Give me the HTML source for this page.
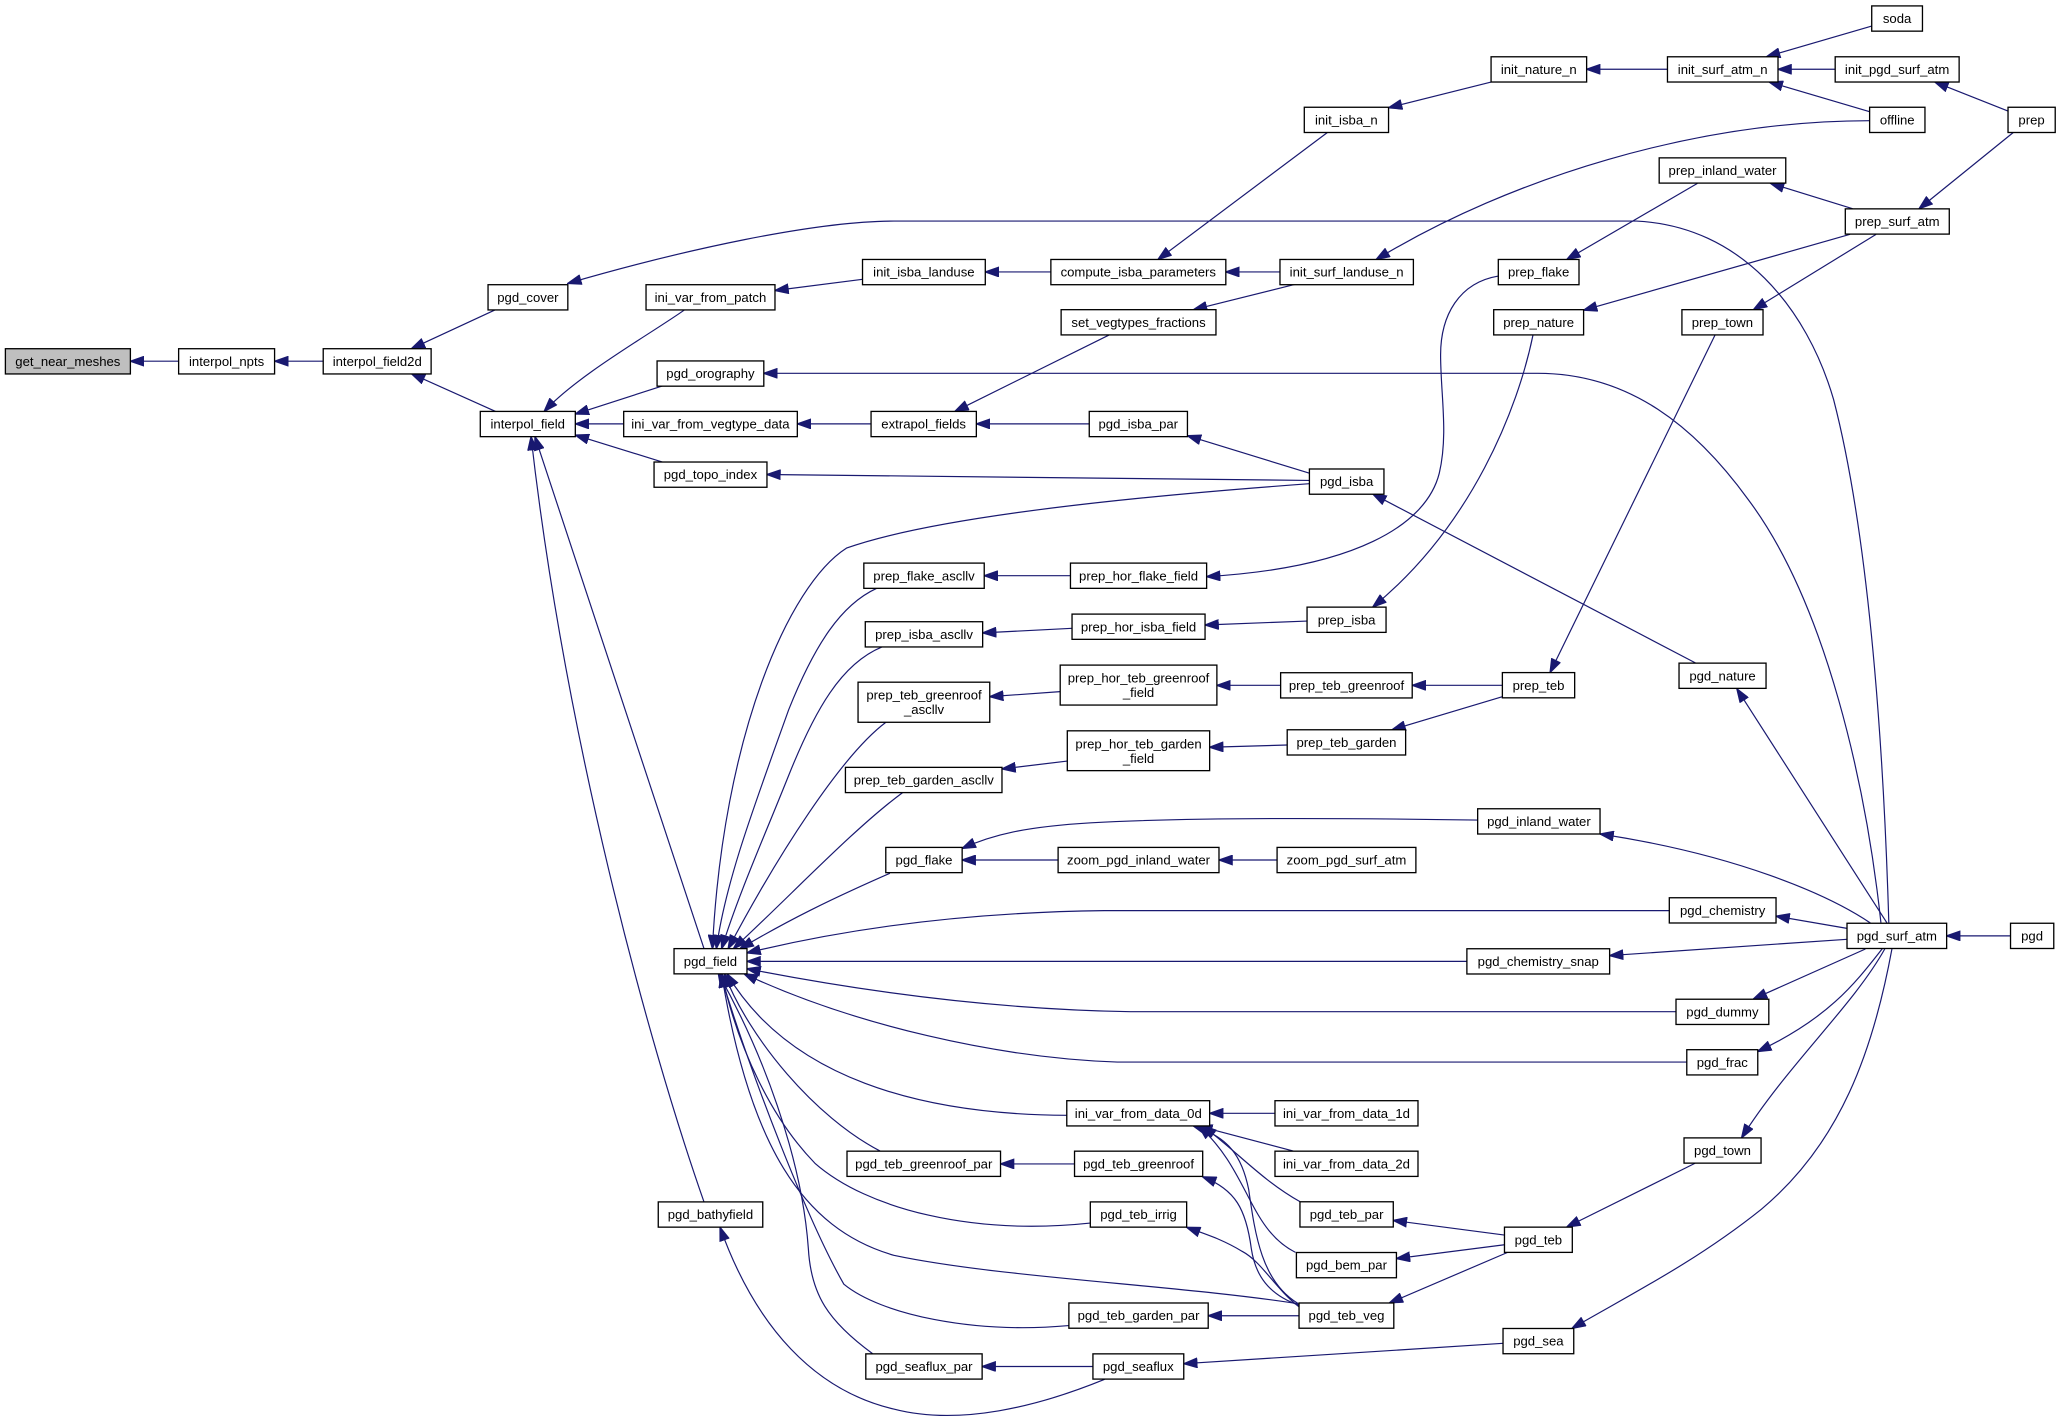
<!DOCTYPE html>
<html><head><meta charset="utf-8"><style>
html,body{margin:0;padding:0;background:#fff;}
svg{display:block;}
text{font-family:"Liberation Sans",Arial,sans-serif;font-size:10px;fill:#000;text-anchor:middle;}
.n rect{fill:#fff;stroke:#000;stroke-width:1;}
.e path{fill:none;stroke:#191970;stroke-width:0.9;marker-end:url(#a);}
</style></head><body>
<svg width="2061" height="1418" viewBox="0 0 1568 1078.8" preserveAspectRatio="none" xmlns="http://www.w3.org/2000/svg">
<defs><marker id="a" markerUnits="userSpaceOnUse" markerWidth="11" markerHeight="8" viewBox="0 0 11 8" refX="10.5" refY="4" orient="auto"><path d="M0.5,0.5 L10.5,4 L0.5,7.5 z" fill="#191970" stroke="#191970" stroke-width="1"/></marker></defs>
<rect width="1568" height="1078.8" fill="#fff"/>
<g class="e">
<path d="M136,274.8 L99.2,274.8"/>
<path d="M246,274.8 L209,274.8"/>
<path d="M377,235.6 L313,265.3"/>
<path d="M377,313 L313,284.3"/>
<path d="M1437,702 C1434,600 1425,420 1395,304 C1375,235 1325,172 1245,168.2 L680,168.2 C620,168.2 520,190 432,215.6"/>
<path d="M521,235.6 C495,254 440,285 414,313"/>
<path d="M504,293.6 L437.7,315"/>
<path d="M474.5,322.5 L437.7,322.5"/>
<path d="M504,351.5 L437.7,331"/>
<path d="M535.6,721.7 L407,332.2"/>
<path d="M535.6,914.4 C492,790 430,560 404,332.2"/>
<path d="M656.2,212.5 L589.6,221"/>
<path d="M799.5,206.9 L749.6,206.9"/>
<path d="M1010,100.7 L881,197.4"/>
<path d="M973.8,206.9 L932.6,206.9"/>
<path d="M985,216.4 L908,235.6"/>
<path d="M843.7,254.9 L726.5,313"/>
<path d="M662.7,322.5 L606.6,322.5"/>
<path d="M828.7,322.5 L742.8,322.5"/>
<path d="M996.2,360 L903.4,331.5"/>
<path d="M996.2,365.5 L583.5,361"/>
<path d="M1431,702 C1420,600 1390,460 1330,380 C1290,325 1240,284 1170,284 L581.1,284"/>
<path d="M1134.4,62.4 L1056.4,82"/>
<path d="M1268.6,52.7 L1207.1,52.7"/>
<path d="M1424,19.8 L1344,43.1"/>
<path d="M1396.2,52.7 L1352.7,52.7"/>
<path d="M1422.4,85 L1346,62.4"/>
<path d="M1527.7,84.5 L1472,62.4"/>
<path d="M1422.4,91.8 C1290,92 1150,135 1047,197.4"/>
<path d="M1409.4,158.8 L1347,139.5"/>
<path d="M1531.8,100.7 L1460,158.8"/>
<path d="M1291.4,139.5 L1192,197.4"/>
<path d="M1407.5,178.3 L1204.8,236"/>
<path d="M1427.3,178.3 L1334,235.6"/>
<path d="M996.2,368 C900,375 720,390 644,417 C600,445 550,560 542,721.7"/>
<path d="M1290,504.4 L1044.4,375.8"/>
<path d="M1139.9,210 C1110,215 1096,240 1096,270 C1096,300 1102,330 1095,360 C1085,400 1030,432 918,438.7"/>
<path d="M814.4,438 L748.8,438"/>
<path d="M667,447.6 C640,460 620,490 600,540 C575,610 552,670 545,721.7"/>
<path d="M1166.3,254.9 C1155,310 1120,400 1044.4,461.8"/>
<path d="M994.4,472.5 L916.8,475.5"/>
<path d="M815.6,478 L747.6,481.5"/>
<path d="M671,492.2 C640,505 620,540 600,590 C580,640 562,680 549,721.7"/>
<path d="M1304.8,254.9 L1179.3,511.6"/>
<path d="M1143,521.4 L1074.4,521.4"/>
<path d="M974.3,521.4 L925.8,521.4"/>
<path d="M806.6,526.2 L753,530"/>
<path d="M674,549.5 C640,575 592,650 554,721.7"/>
<path d="M1143,530 L1059,555.2"/>
<path d="M979.3,566.8 L920.3,568.5"/>
<path d="M812,579 L762.3,585"/>
<path d="M686.7,603 C650,630 603,680 558,721.7"/>
<path d="M1435.6,702.2 L1321.4,524"/>
<path d="M1423,702.2 C1390,680 1320,650 1217.3,634.5"/>
<path d="M1124.2,623.9 C1000,622 900,622 830,626 C780,629 755,635 732,645.5"/>
<path d="M805,654.3 L732,654.3"/>
<path d="M971.6,654.3 L927.4,654.3"/>
<path d="M677,664.4 C630,685 600,700 563,721.7"/>
<path d="M1405.2,706.3 L1351.2,697"/>
<path d="M1270,692.8 L840,692.8 C740,694 650,705 568.3,725"/>
<path d="M1405.2,714.6 L1224.6,727"/>
<path d="M1116,731.4 L568.3,731.4"/>
<path d="M1529.6,712 L1481,712"/>
<path d="M1419.2,722 L1334,760"/>
<path d="M1275,769.7 L860,769.7 C760,768 660,755 568.3,737"/>
<path d="M1432,721.8 C1410,750 1390,775 1337.3,800"/>
<path d="M1283.3,808 L850,808 C760,805 650,780 566,740.8"/>
<path d="M1434,721.8 C1410,765 1360,810 1325,865.6"/>
<path d="M1439.4,721.8 C1425,800 1400,870 1340,920 C1290,960 1240,985 1196,1010.6"/>
<path d="M811.6,848.5 C700,848 600,820 553,740.8"/>
<path d="M970,847 L920.3,847"/>
<path d="M984,875.7 L912,856.7"/>
<path d="M989,914.2 C960,898 940,875 915,856.7"/>
<path d="M985.6,952.8 C950,935 950,890 912,856.7"/>
<path d="M987.4,991.6 C960,975 955,940 950,905 C945,880 935,865 908,856.7"/>
<path d="M669.6,875.7 C620,850 570,790 551,740.8"/>
<path d="M817.5,885.5 L761.2,885.5"/>
<path d="M988.3,993 C965,985 955,970 952,950 C948,920 940,905 915,895.3"/>
<path d="M829.5,930.5 C740,940 660,920 620,885 C588,852 562,800 549,740.8"/>
<path d="M988,994 C970,980 960,960 945,952 C930,943 920,940 902.8,933.7"/>
<path d="M988.3,992 C900,978 760,972 680,955 C610,935 570,870 549,740.8"/>
<path d="M1144.6,939.6 L1060,928.5"/>
<path d="M1144.6,947 L1062.4,957.5"/>
<path d="M1147,952.8 L1057,991.3"/>
<path d="M1289.6,885 L1192,933.5"/>
<path d="M813.2,1008.5 C740,1015 670,1000 642,977 C615,930 572,820 548,740.8"/>
<path d="M988.3,1001 L919.2,1001"/>
<path d="M663.8,1029.8 C630,1005 617,985 615,950 C610,880 580,800 546.5,740.8"/>
<path d="M831.5,1039.6 L747.2,1039.6"/>
<path d="M1143.5,1022 L900.6,1037.5"/>
<path d="M840.4,1049.4 C790,1070 730,1085 680,1072 C620,1058 575,1010 547.8,933.7"/>
</g>
<g class="n">
<rect x="4.1" y="265.3" width="95.1" height="19.2" style="fill:#bfbfbf"/><text x="51.6" y="278.4">get_near_meshes</text>
<rect x="135.9" y="265.3" width="73" height="19.2"/><text x="172.4" y="278.4">interpol_npts</text>
<rect x="245.9" y="265.3" width="82.1" height="19.2"/><text x="287" y="278.4">interpol_field2d</text>
<rect x="371.3" y="216.6" width="60.7" height="19.2"/><text x="401.6" y="229.7">pgd_cover</text>
<rect x="365.4" y="313" width="72.3" height="19.2"/><text x="401.5" y="326.1">interpol_field</text>
<rect x="491.5" y="216.6" width="98.1" height="19.2"/><text x="540.5" y="229.7">ini_var_from_patch</text>
<rect x="499.9" y="274.6" width="81.2" height="19.2"/><text x="540.5" y="287.7">pgd_orography</text>
<rect x="474.5" y="313" width="132.1" height="19.2"/><text x="540.5" y="326.1">ini_var_from_vegtype_data</text>
<rect x="497.6" y="351.5" width="85.9" height="19.2"/><text x="540.5" y="364.6">pgd_topo_index</text>
<rect x="656.2" y="197.4" width="93.4" height="19.2"/><text x="702.9" y="210.5">init_isba_landuse</text>
<rect x="799.5" y="197.4" width="133.1" height="19.2"/><text x="866" y="210.5">compute_isba_parameters</text>
<rect x="807.3" y="235.6" width="117.8" height="19.2"/><text x="866.2" y="248.7">set_vegtypes_fractions</text>
<rect x="662.7" y="313" width="80.1" height="19.2"/><text x="702.7" y="326.1">extrapol_fields</text>
<rect x="828.7" y="313" width="74.7" height="19.2"/><text x="866" y="326.1">pgd_isba_par</text>
<rect x="992.3" y="81.6" width="64.1" height="19.2"/><text x="1024.3" y="94.7">init_isba_n</text>
<rect x="1134.4" y="43.2" width="72.7" height="19.2"/><text x="1170.7" y="56.3">init_nature_n</text>
<rect x="1268.6" y="43.2" width="84.1" height="19.2"/><text x="1310.6" y="56.3">init_surf_atm_n</text>
<rect x="1424" y="4.5" width="38.6" height="19.2"/><text x="1443.3" y="17.6">soda</text>
<rect x="1396.2" y="43.2" width="94.3" height="19.2"/><text x="1443.3" y="56.3">init_pgd_surf_atm</text>
<rect x="1422.4" y="81.6" width="42.1" height="19.2"/><text x="1443.4" y="94.7">offline</text>
<rect x="1527.7" y="81.6" width="35.9" height="19.2"/><text x="1545.6" y="94.7">prep</text>
<rect x="973.8" y="197.4" width="101.5" height="19.2"/><text x="1024.5" y="210.5">init_surf_landuse_n</text>
<rect x="1262.3" y="120.1" width="96.3" height="19.2"/><text x="1310.5" y="133.2">prep_inland_water</text>
<rect x="1403.9" y="158.9" width="79.1" height="19.2"/><text x="1443.4" y="172">prep_surf_atm</text>
<rect x="1139.9" y="197.4" width="61.4" height="19.2"/><text x="1170.6" y="210.5">prep_flake</text>
<rect x="1136.4" y="235.6" width="68.4" height="19.2"/><text x="1170.6" y="248.7">prep_nature</text>
<rect x="1279.6" y="235.6" width="61.7" height="19.2"/><text x="1310.4" y="248.7">prep_town</text>
<rect x="996.2" y="356.8" width="56.7" height="19.2"/><text x="1024.5" y="369.9">pgd_isba</text>
<rect x="657.2" y="428.4" width="91.6" height="19.2"/><text x="703" y="441.5">prep_flake_ascllv</text>
<rect x="814.4" y="428.4" width="103.6" height="19.2"/><text x="866.2" y="441.5">prep_hor_flake_field</text>
<rect x="658.3" y="473" width="89.3" height="19.2"/><text x="703" y="486.1">prep_isba_ascllv</text>
<rect x="815.6" y="467.2" width="101.2" height="19.2"/><text x="866.2" y="480.3">prep_hor_isba_field</text>
<rect x="994.4" y="461.9" width="60.1" height="19.2"/><text x="1024.5" y="475">prep_isba</text>
<rect x="652.8" y="519" width="100.2" height="30.5"/><text x="703" y="532.3">prep_teb_greenroof</text><text x="703" y="543.3">_ascllv</text>
<rect x="806.6" y="506" width="119.2" height="30.4"/><text x="866.2" y="519.3">prep_hor_teb_greenroof</text><text x="866.2" y="530.3">_field</text>
<rect x="974.3" y="511.8" width="100.1" height="19.2"/><text x="1024.4" y="524.9">prep_teb_greenroof</text>
<rect x="1143" y="511.7" width="55" height="19.2"/><text x="1170.5" y="524.8">prep_teb</text>
<rect x="1277.4" y="504.5" width="66.2" height="19.2"/><text x="1310.5" y="517.6">pgd_nature</text>
<rect x="643.2" y="583.8" width="119.1" height="19.2"/><text x="702.8" y="596.9">prep_teb_garden_ascllv</text>
<rect x="812" y="556" width="108.3" height="30.3"/><text x="866.2" y="569.3">prep_hor_teb_garden</text><text x="866.2" y="580.3">_field</text>
<rect x="979.3" y="555.2" width="90.1" height="19.2"/><text x="1024.4" y="568.3">prep_teb_garden</text>
<rect x="1124.2" y="615.3" width="93.1" height="19.2"/><text x="1170.8" y="628.4">pgd_inland_water</text>
<rect x="673.9" y="644.7" width="58.1" height="19.2"/><text x="703" y="657.8">pgd_flake</text>
<rect x="805" y="644.7" width="122.4" height="19.2"/><text x="866.2" y="657.8">zoom_pgd_inland_water</text>
<rect x="971.6" y="644.7" width="105.6" height="19.2"/><text x="1024.4" y="657.8">zoom_pgd_surf_atm</text>
<rect x="1270" y="683" width="81.2" height="19.2"/><text x="1310.6" y="696.1">pgd_chemistry</text>
<rect x="512.8" y="721.7" width="55.5" height="19.2"/><text x="540.5" y="734.8">pgd_field</text>
<rect x="1116" y="721.8" width="108.6" height="19.2"/><text x="1170.3" y="734.9">pgd_chemistry_snap</text>
<rect x="1405.2" y="702.4" width="75.8" height="19.2"/><text x="1443.1" y="715.5">pgd_surf_atm</text>
<rect x="1529.6" y="702.4" width="32.9" height="19.2"/><text x="1546" y="715.5">pgd</text>
<rect x="1275.1" y="760.2" width="70.6" height="19.2"/><text x="1310.4" y="773.3">pgd_dummy</text>
<rect x="1283.3" y="798.6" width="54" height="19.2"/><text x="1310.3" y="811.7">pgd_frac</text>
<rect x="811.6" y="837.4" width="108.7" height="19.2"/><text x="866" y="850.5">ini_var_from_data_0d</text>
<rect x="970" y="837.4" width="108.8" height="19.2"/><text x="1024.4" y="850.5">ini_var_from_data_1d</text>
<rect x="970" y="875.8" width="108.8" height="19.2"/><text x="1024.4" y="888.9">ini_var_from_data_2d</text>
<rect x="644.4" y="875.8" width="116.8" height="19.2"/><text x="702.8" y="888.9">pgd_teb_greenroof_par</text>
<rect x="817.5" y="875.8" width="97.5" height="19.2"/><text x="866.2" y="888.9">pgd_teb_greenroof</text>
<rect x="1281.2" y="865.7" width="58.6" height="19.2"/><text x="1310.5" y="878.8">pgd_town</text>
<rect x="829.5" y="914.4" width="73.3" height="19.2"/><text x="866.2" y="927.5">pgd_teb_irrig</text>
<rect x="989" y="914.3" width="71" height="19.2"/><text x="1024.5" y="927.4">pgd_teb_par</text>
<rect x="500.8" y="914.4" width="79.5" height="19.2"/><text x="540.5" y="927.5">pgd_bathyfield</text>
<rect x="1144.6" y="933.6" width="51.6" height="19.2"/><text x="1170.4" y="946.7">pgd_teb</text>
<rect x="986.3" y="952.9" width="76.1" height="19.2"/><text x="1024.4" y="966">pgd_bem_par</text>
<rect x="813.2" y="991.3" width="106" height="19.2"/><text x="866.2" y="1004.4">pgd_teb_garden_par</text>
<rect x="988.3" y="991.3" width="72.1" height="19.2"/><text x="1024.4" y="1004.4">pgd_teb_veg</text>
<rect x="1143.5" y="1010.7" width="53.8" height="19.2"/><text x="1170.4" y="1023.8">pgd_sea</text>
<rect x="658.7" y="1030" width="88.5" height="19.2"/><text x="703" y="1043.1">pgd_seaflux_par</text>
<rect x="831.5" y="1030" width="69.1" height="19.2"/><text x="866" y="1043.1">pgd_seaflux</text>
</g>
</svg>
</body></html>
